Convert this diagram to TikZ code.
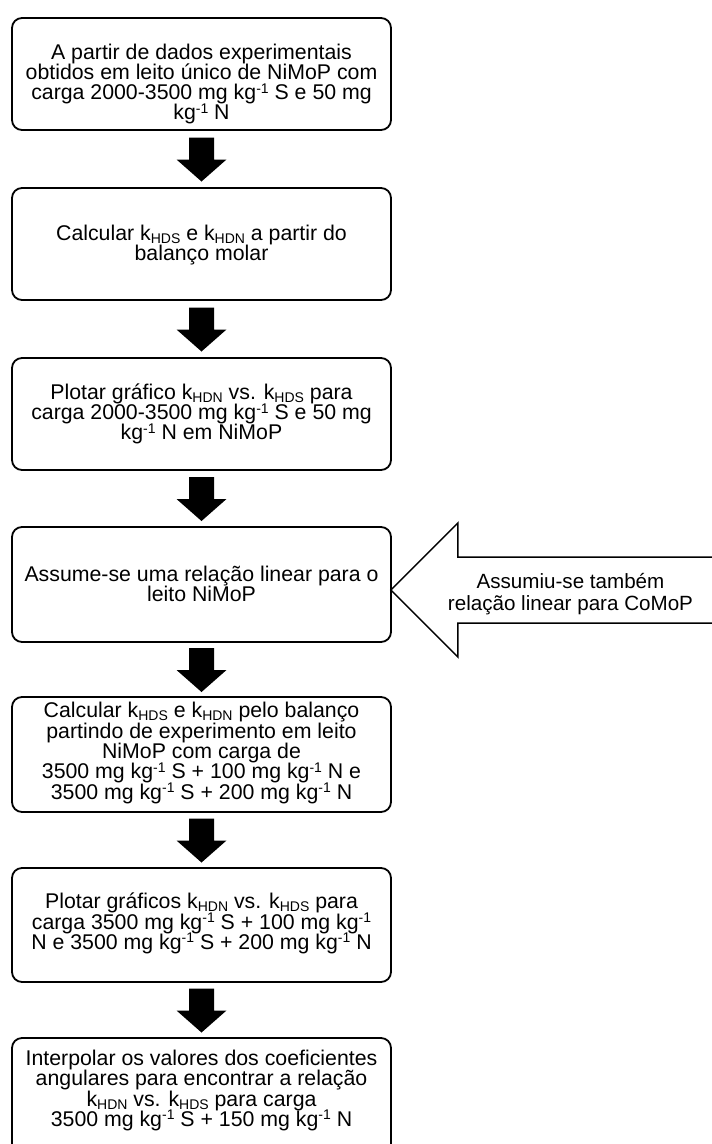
\documentclass[tikz,border=0pt]{standalone}
\usepackage{fontspec}
\setmainfont{Liberation Sans}
\usetikzlibrary{calc}
\newcommand\kk[1]{k\raisebox{-3pt}{\fontsize{14}{14}\selectfont #1}}
\newcommand\mone{\raisebox{6.5pt}{\fontsize{14}{14}\selectfont -1}}
\newcommand\boxfont{\fontsize{21.3}{20.3}\selectfont\lineskiplimit=-50pt\relax}
\newcommand\sidefont{\fontsize{20.6}{21.6}\selectfont\lineskiplimit=-50pt\relax}
\begin{document}
\begin{tikzpicture}[x=1pt,y=-1pt,
  txt/.style={font=\boxfont, align=center, inner sep=0pt, text=black},
  box/.style={draw, line width=1.8pt, rounded corners=10pt, minimum width=379pt, inner sep=0pt},
  downarrow/.pic={\fill[black] (-12.5,-21.5) -- (12.5,-21.5) -- (12.5,0.5) -- (25,0.5) -- (0,22.5) -- (-25,0.5) -- (-12.5,0.5) -- cycle;}
]
\clip (0,0) rectangle (712,1144);
\fill[white] (0,0) rectangle (712,1144);

\node[box, minimum height=112pt] (b1) at (201.5,74) {};
\node[txt] (t1) at (201.5,84) {A partir de dados experimentais\\ obtidos em leito único de NiMoP com\\ carga 2000-3500 mg kg\mone{} S e 50 mg\\ kg\mone{} N};

\node[box, minimum height=112pt] (b2) at (201.5,244) {};
\node[txt] (t2) at (201.5,245) {Calcular \kk{HDS} e \kk{HDN} a partir do\\ balanço molar};

\node[box, minimum height=112pt] (b3) at (201.5,414) {};
\node[txt] (t3) at (201.5,414) {Plotar gráfico \kk{HDN} vs. \kk{HDS} para\\ carga 2000-3500 mg kg\mone{} S e 50 mg\\ kg\mone{} N em NiMoP};

\node[box, minimum height=115pt] (b4) at (201.5,584.5) {};
\node[txt] (t4) at (201.5,584) {Assume-se uma relação linear para o\\ leito NiMoP};

\node[box, minimum height=115pt] (b5) at (201.5,754.5) {};
\node[txt] (t5) at (201.5,753) {Calcular \kk{HDS} e \kk{HDN} pelo balanço\\ partindo de experimento em leito\\ NiMoP com carga de\\ 3500 mg kg\mone{} S + 100 mg kg\mone{} N e\\ 3500 mg kg\mone{} S + 200 mg kg\mone{} N};

\node[box, minimum height=114pt] (b6) at (201.5,925) {};
\node[txt] (t6) at (201.5,923.5) {Plotar gráficos \kk{HDN} vs. \kk{HDS} para\\ carga 3500 mg kg\mone{} S + 100 mg kg\mone{}\\ N e 3500 mg kg\mone{} S + 200 mg kg\mone{} N};

\node[box, minimum height=116pt] (b7) at (201.5,1096) {};
\node[txt] (t7) at (201.5,1090.5) {Interpolar os valores dos coeficientes\\ angulares para encontrar a relação\\ \kk{HDN} vs. \kk{HDS} para carga\\ 3500 mg kg\mone{} S + 150 mg kg\mone{} N};

\pic at ($(b1.south)!0.5!(b2.north)$) {downarrow};
\pic at ($(b2.south)!0.5!(b3.north)$) {downarrow};
\pic at ($(b3.south)!0.5!(b4.north)$) {downarrow};
\pic at ($(b4.south)!0.5!(b5.north)$) {downarrow};
\pic at ($(b5.south)!0.5!(b6.north)$) {downarrow};
\pic at ($(b6.south)!0.5!(b7.north)$) {downarrow};

\coordinate (tip) at ($(b4.east)+(-1,5.5)$);
\draw[line width=1.5pt, fill=white, line join=miter] (tip) -- ++(67,-67) -- ++(0,34) -- ++(280,0) -- ++(0,66) -- ++(-280,0) -- ++(0,34) -- cycle;
\node[txt, font=\sidefont] (side) at (570.5,594) {Assumiu-se também\\ relação linear para CoMoP};
\end{tikzpicture}
\end{document}
